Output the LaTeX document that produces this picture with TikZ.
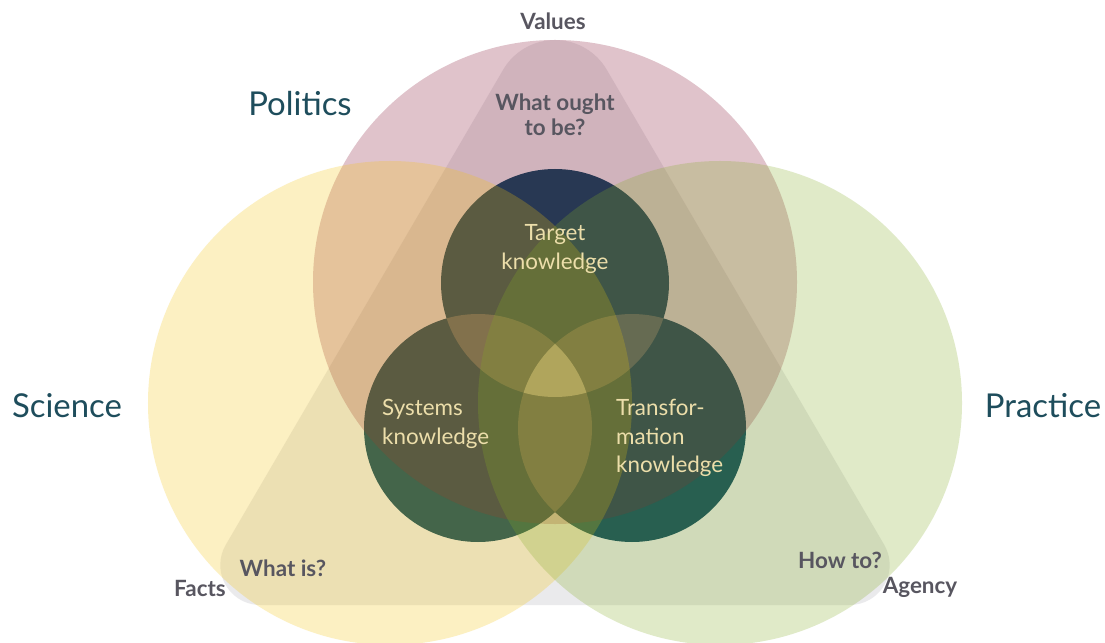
\documentclass[tikz,border=0pt]{standalone}
\usepackage{fontspec}
\setmainfont{Lato}

\definecolor{polpink}{RGB}{132,16,48}
\definecolor{sciyellow}{RGB}{244,196,12}
\definecolor{pracgreen}{RGB}{132,172,36}
\definecolor{knowdark}{RGB}{10,70,95}
\definecolor{knowmid}{RGB}{80,110,115}
\definecolor{knowlight}{RGB}{190,200,180}
\definecolor{trigrey}{RGB}{110,110,125}
\definecolor{headteal}{RGB}{30,77,92}
\definecolor{taggrey}{RGB}{88,86,96}
\definecolor{knowtext}{RGB}{236,222,170}

\begin{document}
\begin{tikzpicture}[x=1bp, y=-1bp,
  sphere/.style={fill opacity=0.25},
  head/.style={text=headteal, font=\fontsize{33}{36}\selectfont},
  tag/.style={text=taggrey, font=\bfseries\fontsize{22.5}{25.5}\selectfont, align=center},
  know/.style={text=knowtext, inner sep=0pt, font=\fontsize{22.5}{29}\selectfont, align=left}]

  \useasboundingbox (0,0) rectangle (1105,643);
  \fill[white] (0,0) rectangle (1105,643);

  \coordinate (politics) at (555,282);
  \coordinate (science) at (390,403);
  \coordinate (practice) at (720,403);
  \coordinate (target) at (555,283);
  \coordinate (systems) at (478,428);
  \coordinate (transf) at (632,428);

  % rounded triangle underneath
  \fill[trigrey, fill opacity=0.14] (260.3,605) arc[start angle=270, end angle=150, radius=40bp]
    -- (503,70) arc[start angle=150, end angle=30, radius=60bp]
    -- (884.3,545) arc[start angle=30, end angle=-90, radius=40bp] -- cycle;

  % the three kinds of knowledge
  \foreach \c in {target,systems,transf}
    \fill[knowdark] (\c) circle[radius=114bp];
  \begin{scope}
    \clip (target) circle[radius=114bp];
    \fill[knowmid] (systems) circle[radius=114bp];
    \fill[knowmid] (transf) circle[radius=114bp];
  \end{scope}
  \begin{scope}
    \clip (systems) circle[radius=114bp];
    \fill[knowmid] (transf) circle[radius=114bp];
  \end{scope}
  \begin{scope}
    \clip (target) circle[radius=114bp];
    \clip (systems) circle[radius=114bp];
    \fill[knowlight] (transf) circle[radius=114bp];
  \end{scope}

  % big spheres
  \fill[sphere, polpink] (politics) circle[radius=242bp];
  \fill[sphere, sciyellow] (science) circle[radius=242bp];
  \fill[sphere, pracgreen] (practice) circle[radius=242bp];

  \node[head] (sciencelbl) at (67,406) {Science};
  \node[head] (politicslbl) at (300,104) {Politics};
  \node[head] (practicelbl) at (1043,406) {Practice};

  \node[tag] (valueslbl) at (553,21) {Values};
  \node[tag] (factslbl) at (200,588) {Facts};
  \node[tag] (agencylbl) at (920,587) {Agency};
  \node[tag] (oughtlbl) at (555,115) {What ought\\to be?};
  \node[tag] (whatislbl) at (283,568) {What is?};
  \node[tag] (howtolbl) at (840,560) {How to?};

  \node[know, align=center] (targetlbl) at (555,249) {Target\\knowledge};
  \node[know, anchor=west] (systemslbl) at (382,424) {Systems\\knowledge};
  \node[know, anchor=west] (transflbl) at (616,438) {Transfor-\\mation\\knowledge};
\end{tikzpicture}
\end{document}
